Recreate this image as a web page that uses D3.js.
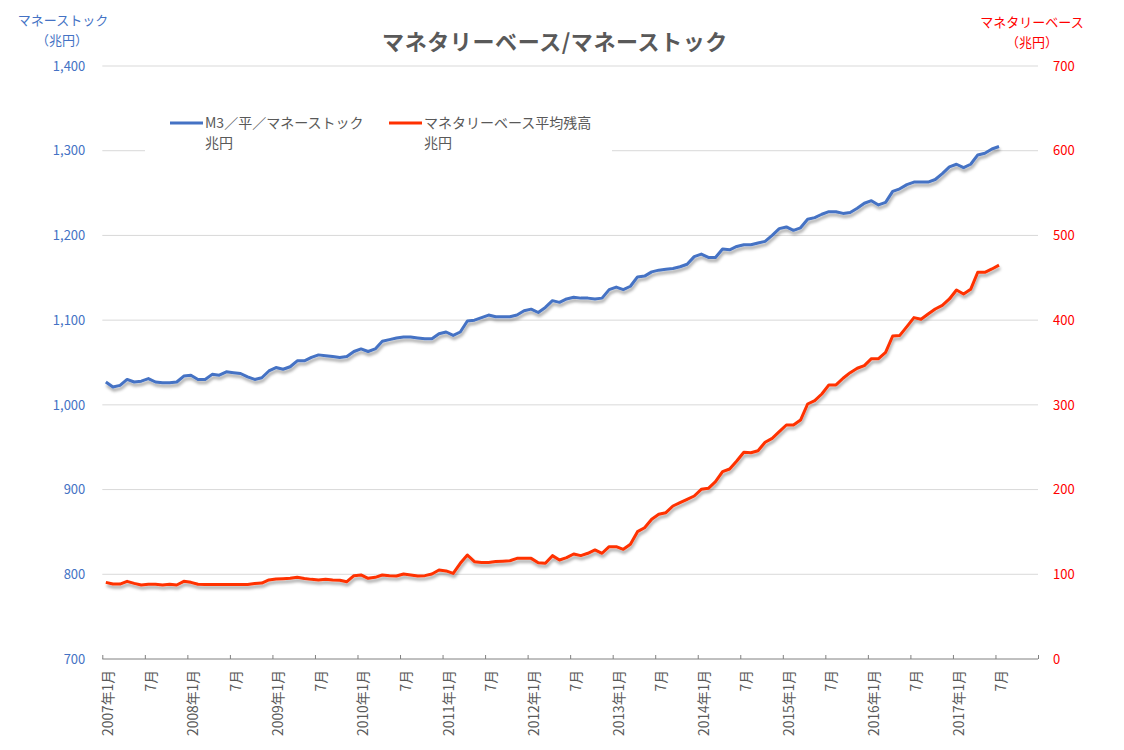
<!DOCTYPE html>
<html><head><meta charset="utf-8">
<script src="https://cdn.jsdelivr.net/npm/d3@7"></script>
<style>
body{margin:0;background:#fff;}
text{font-family:"Noto Sans CJK JP","Noto Sans",sans-serif;}
</style></head>
<body><svg id="c" width="1124" height="750"></svg>
<script>
// Months (YYYY-MM) for the data points
const months = [
"2007-01","2007-02","2007-03","2007-04","2007-05","2007-06","2007-07","2007-08","2007-09","2007-10","2007-11","2007-12",
"2008-01","2008-02","2008-03","2008-04","2008-05","2008-06","2008-07","2008-08","2008-09","2008-10","2008-11","2008-12",
"2009-01","2009-02","2009-03","2009-04","2009-05","2009-06","2009-07","2009-08","2009-09","2009-10","2009-11","2009-12",
"2010-01","2010-02","2010-03","2010-04","2010-05","2010-06","2010-07","2010-08","2010-09","2010-10","2010-11","2010-12",
"2011-01","2011-02","2011-03","2011-04","2011-05","2011-06","2011-07","2011-08","2011-09","2011-10","2011-11","2011-12",
"2012-01","2012-02","2012-03","2012-04","2012-05","2012-06","2012-07","2012-08","2012-09","2012-10","2012-11","2012-12",
"2013-01","2013-02","2013-03","2013-04","2013-05","2013-06","2013-07","2013-08","2013-09","2013-10","2013-11","2013-12",
"2014-01","2014-02","2014-03","2014-04","2014-05","2014-06","2014-07","2014-08","2014-09","2014-10","2014-11","2014-12",
"2015-01","2015-02","2015-03","2015-04","2015-05","2015-06","2015-07","2015-08","2015-09","2015-10","2015-11","2015-12",
"2016-01","2016-02","2016-03","2016-04","2016-05","2016-06","2016-07","2016-08","2016-09","2016-10","2016-11","2016-12",
"2017-01","2017-02","2017-03","2017-04","2017-05","2017-06","2017-07"];

// M3 money stock (兆円), left axis
const moneyStock = [
1027,1021,1023,1030,1027,1028,1031,1027,1026,1026,1027,1034,
1035,1030,1030,1036,1035,1039,1038,1037,1033,1030,1032,1040,
1044,1042,1045,1052,1052,1056,1059,1058,1057,1056,1057,1063,
1066,1063,1066,1075,1077,1079,1080,1080,1079,1078,1078,1084,
1086,1082,1086,1099,1100,1103,1106,1104,1104,1104,1106,1111,
1113,1109,1115,1123,1121,1125,1127,1126,1126,1125,1126,1136,
1139,1136,1140,1151,1152,1157,1159,1160,1161,1163,1166,1175,
1178,1174,1174,1184,1183,1187,1189,1189,1191,1193,1200,1208,
1210,1206,1209,1219,1221,1225,1228,1228,1226,1227,1232,1238,
1241,1236,1239,1252,1255,1260,1263,1263,1263,1266,1273,1281,
1284,1280,1284,1295,1297,1302,1305];

// Monetary base average balance (兆円), right axis
const monetaryBase = [
90.5,88.5,88.5,91.7,89.3,87.4,88.2,88.2,87.4,88.2,87.4,91.7,
90.5,88.2,88,88,88,88,88,88,88,89,89.7,93.3,
94.4,94.8,95.2,96.4,95,94,93.3,94,93.3,93,91.3,98.4,
99.2,95.3,96.4,99.2,98.4,98,100.3,99.2,98,98.4,100.3,105,
104,101,113,122.8,114.9,114,114,115,115.5,116,118.8,118.8,
118.8,113.7,113,122,116.9,119.6,124,122,124.8,128.7,124.8,132.6,
132.6,129.5,135.4,150.3,155,164.9,170.8,172.7,180.6,184.5,188.5,192.4,
200.3,201.5,209.3,221.1,224.3,233.7,244,243.5,245.9,255.8,260.5,268.3,
276.2,276.2,282,301,305,312.8,323.5,323.5,331.4,338,343.2,346.3,
354.5,354.5,362,381.3,382,392.3,403,401,407.3,413.2,417.5,425,
435.6,430.9,436.4,456.5,456.5,460.4,465];

const xTickLabels = ["2007年1月","7月","2008年1月","7月","2009年1月","7月","2010年1月","7月",
"2011年1月","7月","2012年1月","7月","2013年1月","7月","2014年1月","7月","2015年1月","7月",
"2016年1月","7月","2017年1月","7月",""];
const leftTicks = [700,800,900,1000,1100,1200,1300,1400];
const rightTicks = [0,100,200,300,400,500,600,700];
const seriesNames = ["M3／平／マネーストック","マネタリーベース平均残高"];

const W=1124,H=750;
const L=102.3,R=1038,T=66,B=659;
const blue="#4472C4", red="#FF3000", gray="#595959";
const svg=d3.select("#c");

const defs=svg.append("defs");
const f=defs.append("filter").attr("id","sh").attr("x","-5%").attr("y","-5%").attr("width","110%").attr("height","120%");
f.append("feDropShadow").attr("dx",1).attr("dy",3).attr("stdDeviation",1.6)
 .attr("flood-color","#000").attr("flood-opacity",0.35);

const mIdx = s => { const [y,m]=s.split("-").map(Number); return (y-2007)*12+(m-1); };
const x=d3.scaleLinear().domain([0,132]).range([L,R]);
const yL=d3.scaleLinear().domain([700,1400]).range([B,T]);
const yR=d3.scaleLinear().domain([0,700]).range([B,T]);

// gridlines
svg.append("g").selectAll("line").data(leftTicks.slice(1)).join("line")
  .attr("x1",L).attr("x2",R).attr("y1",d=>yL(d)).attr("y2",d=>yL(d))
  .attr("stroke","#d9d9d9").attr("stroke-width",1);

// left axis
const gl=svg.append("g").attr("transform",`translate(${L},0)`)
  .call(d3.axisLeft(yL).tickValues(leftTicks).tickFormat(d3.format(",")).tickSize(0).tickPadding(17));
gl.select(".domain").remove();
gl.selectAll("text").attr("fill",blue).attr("font-size",13);

// right axis
const gr=svg.append("g").attr("transform",`translate(${R},0)`)
  .call(d3.axisRight(yR).tickValues(rightTicks).tickSize(0).tickPadding(15));
gr.select(".domain").remove();
gr.selectAll("text").attr("fill","#FF0000").attr("font-size",13);

// x axis
const tickIdx=d3.range(0,133,6);
const gx=svg.append("g").attr("transform",`translate(0,${B})`)
  .call(d3.axisBottom(x).tickValues(tickIdx).tickSize(-4).tickFormat(""));
gx.select(".domain").attr("stroke","#808080").attr("d",`M${L},0H${R}`);
gx.selectAll(".tick line").attr("stroke","#808080");
svg.append("g").selectAll("text").data(tickIdx).join("text")
  .attr("transform",(d)=>`translate(${x(d)+5},670) rotate(-90)`)
  .attr("text-anchor","end").attr("dominant-baseline","central")
  .attr("font-size",13.8).attr("fill",gray)
  .text((d,i)=>xTickLabels[i]);

// lines
const pts=months.map(mIdx);
const lineL=d3.line().x((d,i)=>x(pts[i]+0.5)).y(d=>yL(d));
const lineR=d3.line().x((d,i)=>x(pts[i]+0.5)).y(d=>yR(d));
svg.append("path").datum(moneyStock).attr("d",lineL).attr("fill","none")
  .attr("stroke",blue).attr("stroke-width",3).attr("stroke-linejoin","round").attr("filter","url(#sh)");
svg.append("path").datum(monetaryBase).attr("d",lineR).attr("fill","none")
  .attr("stroke",red).attr("stroke-width",3).attr("stroke-linejoin","round").attr("filter","url(#sh)");

// legend
svg.append("rect").attr("x",145).attr("y",100).attr("width",467).attr("height",56).attr("fill","#fff");
const lg=svg.append("g");
[[170,blue,seriesNames[0]],[389,red,seriesNames[1]]].forEach(([lx,c,t])=>{
  lg.append("line").attr("x1",lx).attr("x2",lx+33).attr("y1",123).attr("y2",123).attr("stroke",c).attr("stroke-width",3);
  lg.append("text").attr("x",lx+35).attr("y",128).attr("font-size",14).attr("fill",gray).text(t);
  lg.append("text").attr("x",lx+35).attr("y",148).attr("font-size",14).attr("fill",gray).text("兆円");
});

// title
svg.append("text").attr("x",555).attr("y",50).attr("text-anchor","middle")
  .attr("font-size",22).attr("font-weight","bold").attr("letter-spacing",0.6).attr("fill",gray).text("マネタリーベース/マネーストック");

// axis titles
svg.append("text").attr("x",63).attr("y",25).attr("text-anchor","middle").attr("font-size",13).attr("fill",blue).text("マネーストック");
svg.append("text").attr("x",62).attr("y",45).attr("text-anchor","middle").attr("font-size",13).attr("fill",blue).text("（兆円）");
svg.append("text").attr("x",1032).attr("y",27).attr("text-anchor","middle").attr("font-size",13).attr("fill","#FF0000").text("マネタリーベース");
svg.append("text").attr("x",1032).attr("y",47).attr("text-anchor","middle").attr("font-size",13).attr("fill","#FF0000").text("（兆円）");
</script></body></html>
